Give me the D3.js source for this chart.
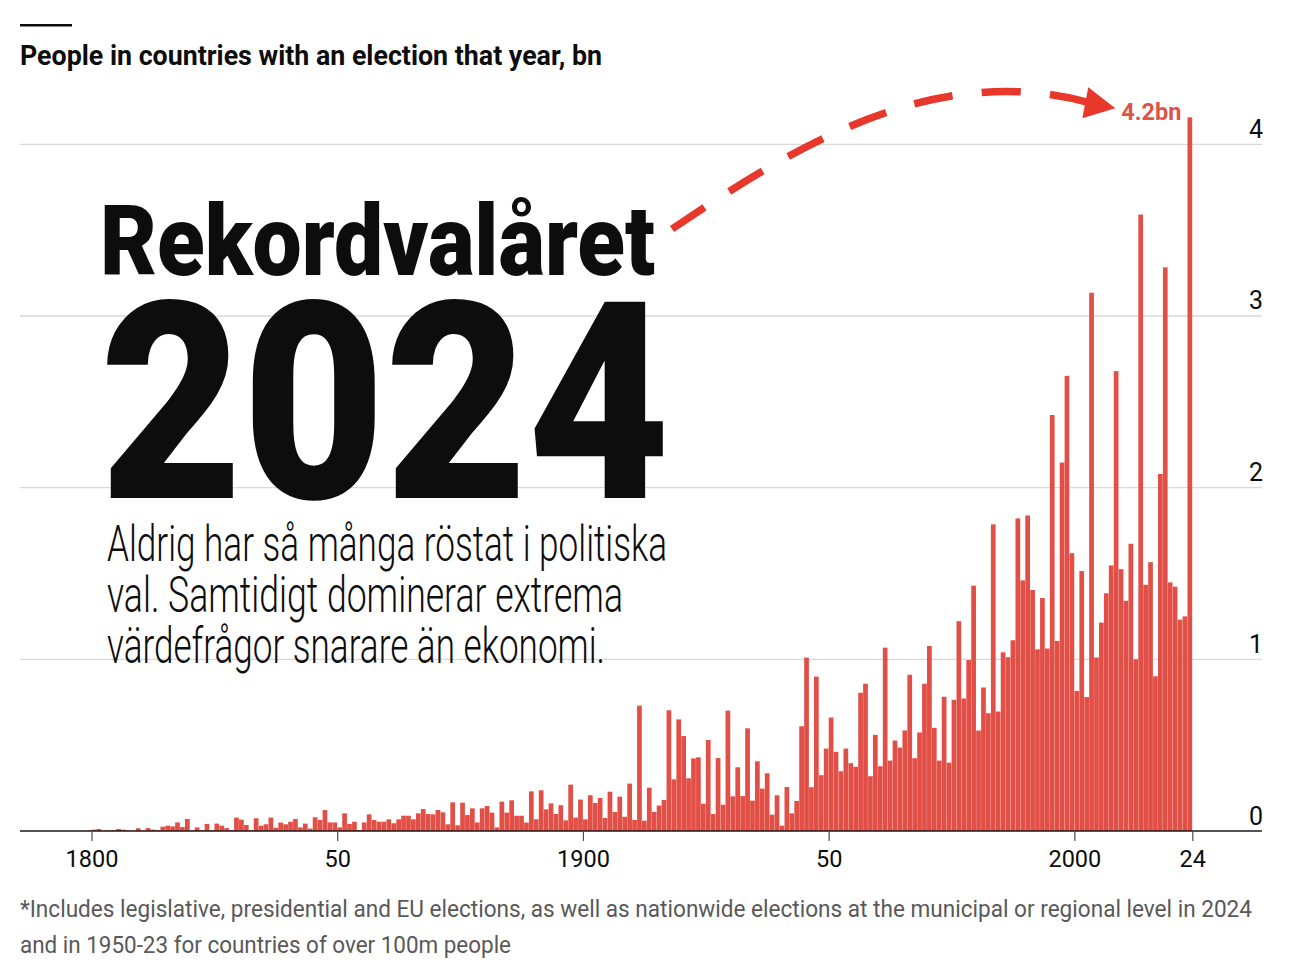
<!DOCTYPE html>
<html>
<head>
<meta charset="utf-8">
<script src="https://cdn.jsdelivr.net/npm/d3@7"></script>
<style>
  body { margin: 0; background: #fff; }
  svg { display: block; }
  text { font-family: Roboto, "Liberation Sans", sans-serif; }
</style>
</head>
<body>
<div id="chart"></div>
<script>
// Data, billions of people, one value per year (1800-2024)
const firstYear = 1800;
const values1800s = [
  0.003, 0.008, 0.012, 0.002, 0.004, 0.004, 0.012, 0.008, 0.004, 0.002,
  0.016, 0.002, 0.017, 0.008, 0.006, 0.025, 0.031, 0.027, 0.05, 0.023,
  0.07, 0.004, 0.021, 0.004, 0.041, 0.004, 0.043, 0.031, 0.017, 0.004,
  0.078, 0.066, 0.035, 0.004, 0.074, 0.031, 0.039, 0.078, 0.019, 0.049,
  0.039, 0.054, 0.07, 0.021, 0.043, 0.014, 0.08, 0.064, 0.122, 0.05
];
const values1850s = [
  0.05, 0.021, 0.103, 0.041, 0.054, 0.006, 0.05, 0.097, 0.064, 0.054,
  0.054, 0.068, 0.045, 0.068, 0.089, 0.089, 0.068, 0.103, 0.128, 0.099,
  0.097, 0.122, 0.109, 0.039, 0.167, 0.033, 0.165, 0.093, 0.132, 0.05,
  0.132, 0.146, 0.107, 0.021, 0.171, 0.107, 0.179, 0.089, 0.089, 0.049,
  0.231, 0.068, 0.237, 0.126, 0.161, 0.099, 0.15, 0.062, 0.27, 0.078
];
const values1900s = [
  0.183, 0.068, 0.208, 0.163, 0.192, 0.076, 0.229, 0.111, 0.2, 0.083,
  0.276, 0.064, 0.73, 0.06, 0.252, 0.111, 0.148, 0.181, 0.703, 0.301,
  0.65, 0.553, 0.307, 0.423, 0.429, 0.159, 0.53, 0.099, 0.425, 0.153,
  0.701, 0.202, 0.371, 0.204, 0.598, 0.177, 0.406, 0.247, 0.336, 0.095,
  0.208, 0.031, 0.256, 0.103, 0.175, 0.61, 1.01, 0.255, 0.899, 0.325
];
const values1950s = [
  0.48, 0.661, 0.461, 0.348, 0.48, 0.395, 0.374, 0.805, 0.858, 0.319,
  0.56, 0.377, 1.068, 0.41, 0.527, 0.486, 0.586, 0.91, 0.424, 0.574,
  0.858, 1.078, 0.601, 0.41, 0.782, 0.398, 0.764, 1.222, 0.772, 0.996,
  1.429, 0.585, 0.836, 0.686, 1.786, 0.696, 1.041, 1.012, 1.111, 1.821,
  1.46, 1.838, 1.404, 1.058, 1.357, 1.063, 2.423, 1.107, 2.146, 2.651
];
const values2000s = [
  1.618, 0.816, 1.514, 0.78, 3.135, 1.011, 1.214, 1.385, 1.547, 2.679,
  1.525, 1.341, 1.673, 1.0, 3.591, 1.434, 1.566, 0.901, 2.08, 3.283,
  1.448, 1.423, 1.231, 1.25, 4.157
];
const values = [].concat(values1800s, values1850s, values1900s, values1950s, values2000s);
const years = values.map((v, i) => firstYear + i);
const bars = years.map((year, i) => ({ year, value: values[i] }));

const tickYears = [1800, 1850, 1900, 1950, 2000, 2024];
const tickLabels = ["1800", "50", "1900", "50", "2000", "24"];
const yTicks = [0, 1, 2, 3, 4];
const peakLabel = "4.2bn";

const subtitle = "People in countries with an election that year, bn";
const headline = "Rekordvalåret";
const bigYear = "2024";
const standfirst = [
  "Aldrig har så många röstat i politiska",
  "val. Samtidigt dominerar extrema",
  "värdefrågor snarare än ekonomi."
];
const footnote = [
  "*Includes legislative, presidential and EU elections, as well as nationwide elections at the municipal or regional level in 2024",
  "and in 1950-23 for countries of over 100m people"
];

// Layout
const width = 1290;
const height = 966;
const left = 20;
const right = 1262;
const barColor = "#e24f46";
const arrowColor = "#e8372b";

const svg = d3.select("#chart")
  .append("svg")
  .attr("width", width)
  .attr("height", height);

// Scales
const x = d3.scaleLinear()
  .domain([1800, 2024])
  .range([91.5, 1192.3]);

const y = d3.scaleLinear()
  .domain([0, 4])
  .range([831, 144.3]);

// Small rule and subtitle
svg.append("rect")
  .attr("x", left).attr("y", 24)
  .attr("width", 52).attr("height", 2.5)
  .attr("fill", "#0d0d0d");

function addText(g, opts) {
  const t = g.append("text")
    .attr("x", opts.x)
    .attr("y", opts.y)
    .attr("font-size", opts.size)
    .attr("font-weight", opts.weight || 400)
    .attr("fill", opts.fill || "#0d0d0d")
    .attr("text-anchor", opts.anchor || "start")
    .text(opts.text);
  if (opts.len) {
    t.attr("textLength", opts.len).attr("lengthAdjust", "spacingAndGlyphs");
  }
  return t;
}

addText(svg, { x: left, y: 65, size: 27, weight: 700, text: subtitle, len: 582 });

// Gridlines
svg.append("g")
  .attr("class", "grid")
  .selectAll("line")
  .data(yTicks.filter(d => d > 0))
  .join("line")
  .attr("x1", left)
  .attr("x2", right)
  .attr("y1", d => y(d))
  .attr("y2", d => y(d))
  .attr("stroke", "#d9d9d9")
  .attr("stroke-width", 1.3);

// Bars: each year's bar ends at its tick
const step = x(1801) - x(1800);
svg.append("g")
  .attr("class", "bars")
  .selectAll("rect")
  .data(bars)
  .join("rect")
  .attr("x", d => x(d.year) - step + 0.1)
  .attr("width", step - 0.2)
  .attr("y", d => y(d.value))
  .attr("height", d => y(0) - y(d.value))
  .attr("fill", barColor);

// Baseline
svg.append("line")
  .attr("x1", left).attr("x2", right)
  .attr("y1", y(0)).attr("y2", y(0))
  .attr("stroke", "#1a1a1a")
  .attr("stroke-width", 1.5);

// X axis
const xAxis = d3.axisBottom(x)
  .tickValues(tickYears)
  .tickFormat((d, i) => tickLabels[i])
  .tickSize(10)
  .tickPadding(9);

const xg = svg.append("g")
  .attr("transform", `translate(0,${y(0)})`)
  .call(xAxis);
xg.select(".domain").remove();
xg.selectAll(".tick line").attr("stroke", "#4d4d4d").attr("stroke-width", 1.2);
xg.selectAll(".tick text")
  .attr("font-family", "Roboto, 'Liberation Sans', sans-serif")
  .attr("font-size", 23.5)
  .attr("fill", "#0d0d0d");

// Y labels, right side above gridlines
const yAxis = d3.axisLeft(y)
  .tickValues(yTicks)
  .tickFormat(d3.format("d"))
  .tickSize(0)
  .tickPadding(0);

const yg = svg.append("g")
  .attr("transform", `translate(${right + 1},0)`)
  .call(yAxis);
yg.select(".domain").remove();
yg.selectAll(".tick text")
  .attr("dy", null)
  .attr("y", -7)
  .attr("font-family", "Roboto, 'Liberation Sans', sans-serif")
  .attr("font-size", 25)
  .attr("fill", "#0d0d0d");

// Headline block
addText(svg, { x: 100, y: 275, size: 99, weight: 900, text: headline, len: 555 });
addText(svg, { x: 100, y: 498, size: 276, weight: 900, text: bigYear, len: 570 });
const standLens = [560, 516, 498];
standfirst.forEach((line, i) => {
  addText(svg, { x: 107, y: 561 + i * 51, size: 50, weight: 300, text: line, len: standLens[i] });
});

// Peak annotation
const last = bars[bars.length - 1];
const labelX = x(last.year) - 11;
const labelY = y(last.value) + 3;
addText(svg, { x: labelX, y: labelY, size: 23, weight: 700, fill: "#e05247",
  anchor: "end", text: peakLabel, len: 60 });

const tipX = labelX - 66;
const tipY = labelY - 12;
const arrow = svg.append("path")
  .attr("d", `M672,229 C790,150 930,60 ${tipX - 27},${tipY - 6}`)
  .attr("fill", "none")
  .attr("stroke", arrowColor)
  .attr("stroke-width", 7.5);

const L = arrow.node().getTotalLength();
const n = Math.round((L + 30) / 70);
const s = L / (n * 40 + (n - 1) * 30);
arrow.attr("stroke-dasharray", `${40 * s} ${30 * s}`);

svg.append("path")
  .attr("d", `M${tipX},${tipY} L${tipX - 27},${tipY - 21} L${tipX - 33},${tipY + 10} Z`)
  .attr("fill", arrowColor);

// Footnote
addText(svg, { x: left, y: 917, size: 23, fill: "#595959", text: footnote[0], len: 1232 });
addText(svg, { x: left, y: 953, size: 23, fill: "#595959", text: footnote[1], len: 491 });
</script>
</body>
</html>
